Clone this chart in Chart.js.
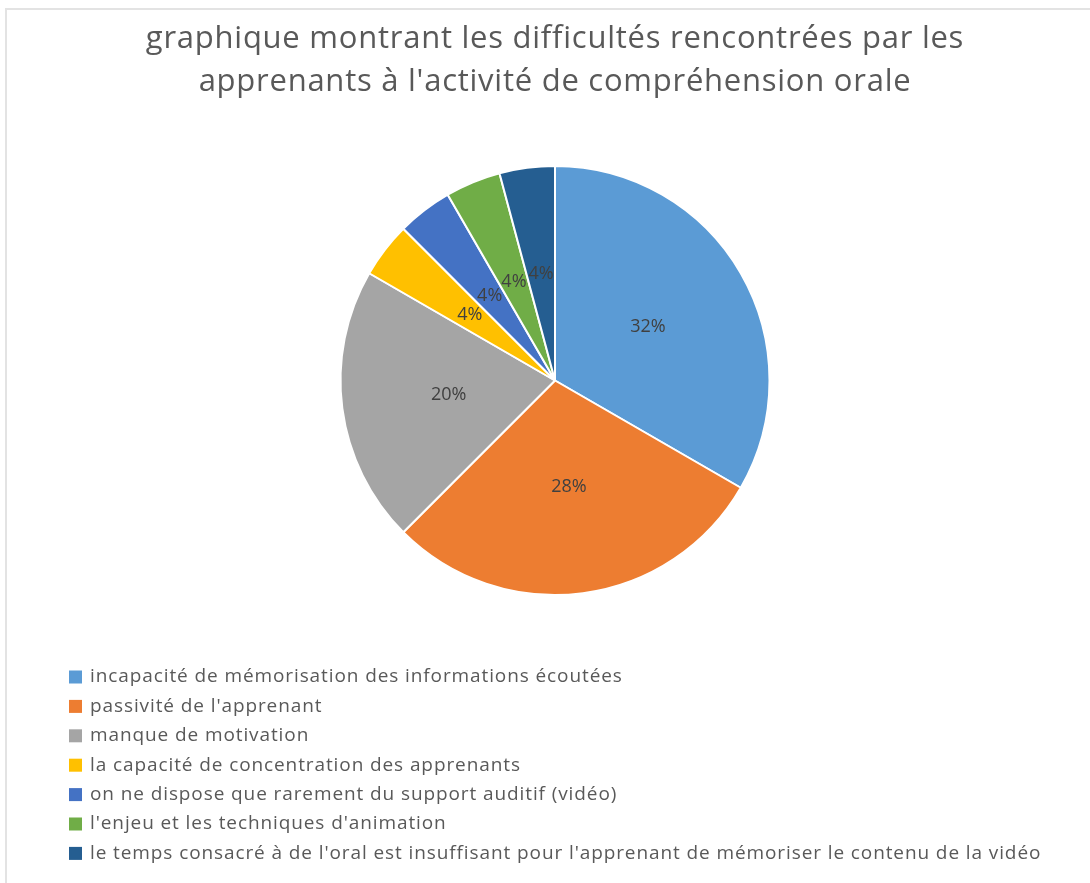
<!DOCTYPE html>
<html>
<head>
<meta charset="utf-8">
<script src="https://cdn.jsdelivr.net/npm/chart.js@4.4.1/dist/chart.umd.min.js"></script>
<style>
  body { margin: 0; background: #fff; }
  #wrap { position: relative; width: 1090px; height: 883px; }
</style>
</head>
<body>
<div id="wrap"><canvas id="pie"></canvas></div>
<script>
const categories = [
    "incapacité de mémorisation des informations écoutées",
    "passivité de l'apprenant",
    "manque de motivation",
    "la capacité de concentration des apprenants",
    "on ne dispose que rarement du support auditif (vidéo)",
    "l'enjeu et les techniques d'animation",
    "le temps consacré à de l'oral est insuffisant pour l'apprenant de mémoriser le contenu de la vidéo"
];
const percents = [32, 28, 20, 4, 4, 4, 4];
const sliceColors = ['#5B9BD5', '#ED7D31', '#A5A5A5', '#FFC000', '#4472C4', '#70AD47', '#255E91'];
const titleLines = [
    'graphique montrant les difficultés rencontrées par les',
    "apprenants à l'activité de compréhension orale"
];

const fontName = "'Open Sans', 'Noto Sans', sans-serif";

// widen the title a bit (the original font is spaced wider)
const titleSpacing = {
    id: 'titleSpacing',
    beforeDraw(chart) {
        chart.ctx.letterSpacing = '0.75px';
    },
    beforeDatasetsDraw(chart) {
        chart.ctx.letterSpacing = '0px';
    }
};

// percent labels in the middle of each slice
const sliceLabels = {
    id: 'sliceLabels',
    afterDatasetsDraw(chart) {
        const ctx = chart.ctx;
        const meta = chart.getDatasetMeta(0);
        ctx.save();
        ctx.font = '18px ' + fontName;
        ctx.fillStyle = '#404040';
        ctx.textAlign = 'center';
        ctx.textBaseline = 'middle';
        meta.data.forEach((arc, i) => {
            const p = arc.getCenterPoint();
            ctx.fillText(percents[i] + '%', p.x, p.y);
        });
        ctx.restore();
    }
};

// excel-like legend: one item per line, bottom left
const sideLegend = {
    id: 'sideLegend',
    afterDraw(chart) {
        const ctx = chart.ctx;
        ctx.save();
        // frame lines of the chart area (top and left are visible)
        ctx.strokeStyle = '#e3e3e3';
        ctx.lineWidth = 2;
        ctx.beginPath();
        ctx.moveTo(6, 883);
        ctx.lineTo(6, 9);
        ctx.lineTo(1090, 9);
        ctx.stroke();

        ctx.font = '19px ' + fontName;
        ctx.letterSpacing = '0.9px';
        ctx.textBaseline = 'middle';
        ctx.textAlign = 'left';
        chart.data.labels.forEach((lab, i) => {
            const y = 677 + i * 29.4;
            ctx.fillStyle = sliceColors[i];
            ctx.fillRect(69, y - 6.5, 13, 13);
            ctx.fillStyle = '#595959';
            ctx.fillText(lab, 90, y);
        });
        ctx.restore();
    }
};

new Chart(document.getElementById('pie'), {
    type: 'pie',
    data: {
        labels: categories,
        datasets: [{
            data: percents,
            backgroundColor: sliceColors,
            borderColor: '#ffffff',
            borderWidth: 2
        }]
    },
    options: {
        responsive: true,
        maintainAspectRatio: false,
        animation: false,
        layout: {
            padding: { top: 0, bottom: 287, left: 20, right: 0 }
        },
        plugins: {
            legend: { display: false },
            tooltip: { enabled: false },
            title: {
                display: true,
                text: titleLines,
                color: '#595959',
                font: { family: fontName, size: 31, weight: 'normal', lineHeight: 1.387 },
                padding: { top: 18, bottom: 61 }
            }
        }
    },
    plugins: [titleSpacing, sliceLabels, sideLegend]
});
</script>
</body>
</html>
